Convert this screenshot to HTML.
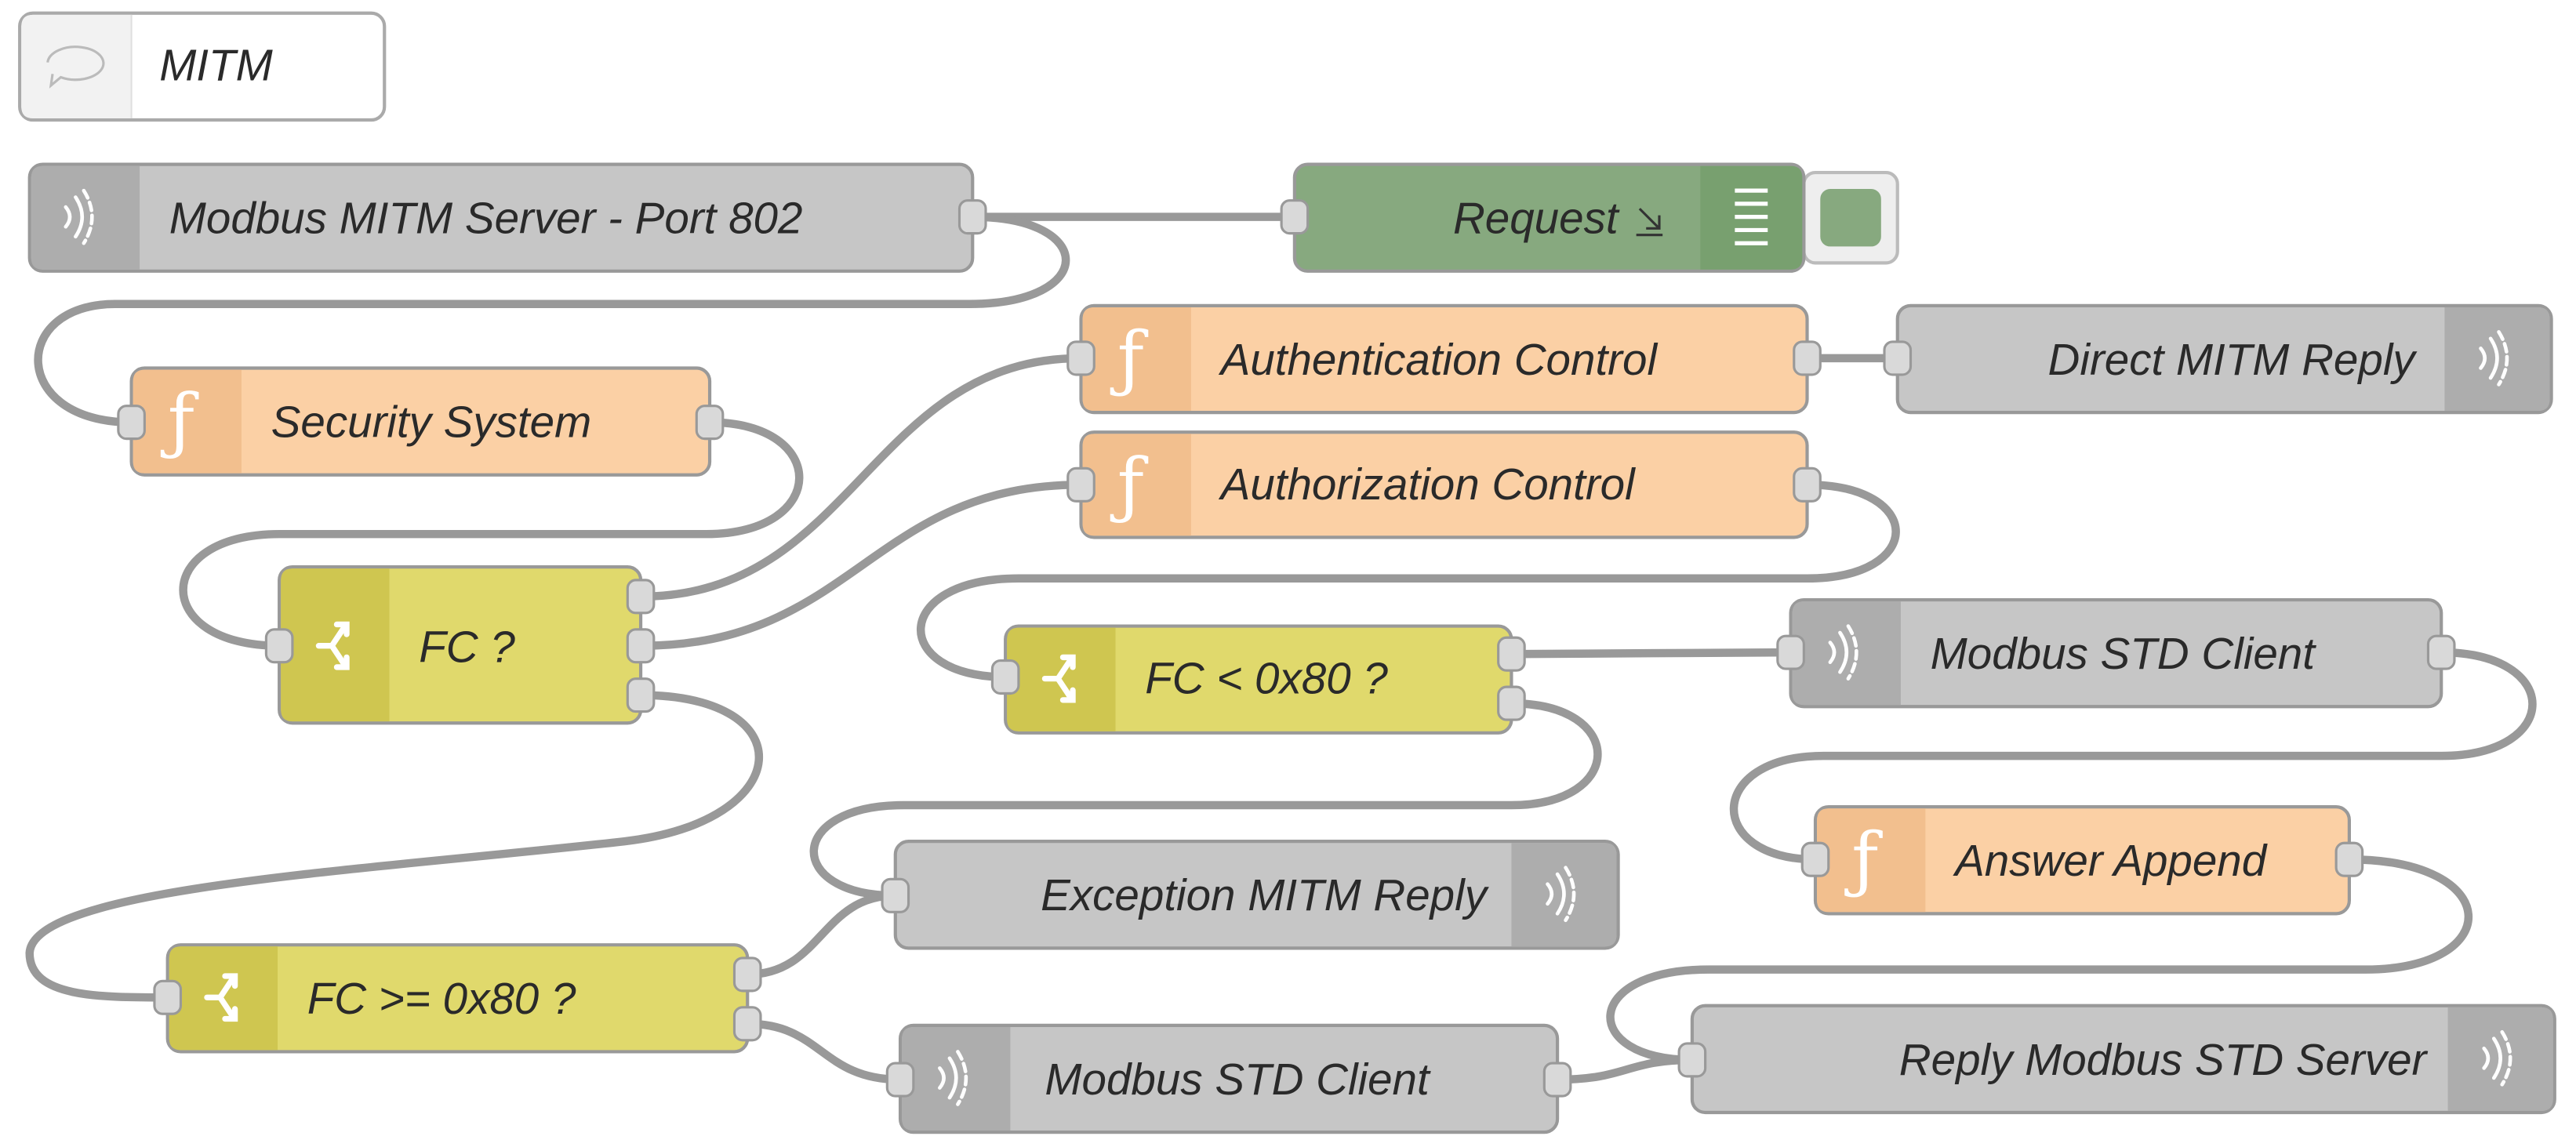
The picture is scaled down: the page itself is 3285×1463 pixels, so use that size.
<!DOCTYPE html>
<html><head><meta charset="utf-8"><style>
html,body{margin:0;padding:0;background:#fff;}
svg{display:block;}
text{font-family:"Liberation Sans",sans-serif;font-style:italic;font-size:27px;fill:#2a2a2a;}
</style></head><body>
<svg width="3285" height="1463" viewBox="0 0 1568 698" preserveAspectRatio="none" xmlns="http://www.w3.org/2000/svg">
<defs>
<g id="modb" stroke="#fff" stroke-width="2.2" fill="none" stroke-linecap="round">
<path d="M-2 -12 Q6 0 -2 12"/><path d="M-8 -6 Q-3 0 -8 6"/><path d="M3 -16 Q13 0 3 16" stroke-dasharray="5 3"/>
</g>
<g id="func"><text x="-10" y="15" style="font-size:44px;fill:#fff;font-style:normal;font-family:'DejaVu Serif',serif">ƒ</text></g>
<g id="sw" stroke="#fff" stroke-width="3.5" fill="none" stroke-linecap="round">
<path d="M-10 0 L-2 0 L6 -12"/><path d="M-2 0 L6 12"/><path d="M1 -13 L7 -13 L7 -7"/><path d="M1 13 L7 13 L7 7"/>
</g>
</defs>

<g fill="none" stroke="#999" stroke-width="5" stroke-linecap="round">
<path d="M592 132 L788 132"/>
<path d="M592 132 C668 132 668 185 590 185 L70 185 C6 185 6 257 80 257"/>
<path d="M432 257 C505 257 505 325 430 325 L170 325 C92 325 92 393 170 393"/>
<path d="M390 363 C520 363 530 218 658 218"/>
<path d="M390 393 C520 393 530 295 658 295"/>
<path d="M390 423 C490 423 485 500 380 512 C220 530 20 540 18 580 C18 607 60 607 102 607"/>
<path d="M1100 218 L1155 218"/>
<path d="M1100 295 C1172 295 1172 352 1100 352 L620 352 C542 352 542 412 612 412"/>
<path d="M920 398 C1000 398 1010 397 1090 397"/>
<path d="M920 428 C990 428 990 490 920 490 L550 490 C478 490 478 545 545 545"/>
<path d="M1486 397 C1560 397 1560 460 1486 460 L1110 460 C1038 460 1038 523 1105 523"/>
<path d="M1430 523 C1525 523 1525 590 1440 590 L1040 590 C962 590 962 645 1030 645"/>
<path d="M455 593 C500 593 500 545 545 545"/>
<path d="M455 623 C500 623 500 657 548 657"/>
<path d="M948 657 C990 657 990 645 1030 645"/>
</g>

<rect x="12" y="8" width="222" height="65" rx="8" fill="#fff" stroke="#aaa" stroke-width="2"/>
<path d="M13 16 Q13 9 20 9 L80 9 L80 72 L20 72 Q13 72 13 65 Z" fill="#f2f2f2"/>
<line x1="80" y1="9" x2="80" y2="72" stroke="#e0e0e0"/>
<path d="M29 38 a17 10 0 1 1 8 9 l-6 5 l1 -7" fill="none" stroke="#bbb" stroke-width="1.5"/>
<text x="97" y="49">MITM</text>

<rect x="18" y="100" width="574" height="65" rx="8" fill="#c6c6c6" stroke="#999" stroke-width="2"/>
<path d="M19 108 Q19 101 26 101 L85 101 L85 164 L26 164 Q19 164 19 157 Z" fill="#adadad"/>
<use href="#modb" x="48" y="132"/>
<text x="103" y="142">Modbus MITM Server - Port 802</text>

<rect x="1098" y="105" width="57" height="55" rx="7" fill="#eee" stroke="#bbb" stroke-width="2"/>
<rect x="1108" y="115" width="37" height="35" rx="6" fill="#87a97f"/>
<rect x="788" y="100" width="310" height="65" rx="8" fill="#87a97f" stroke="#999" stroke-width="2"/>
<path d="M1035 101 L1090 101 Q1097 101 1097 108 L1097 157 Q1097 164 1090 164 L1035 164 Z" fill="#78a06f"/>
<g stroke="#fff" stroke-width="2.5"><line x1="1056" y1="116" x2="1076" y2="116"/><line x1="1056" y1="124" x2="1076" y2="124"/><line x1="1056" y1="132" x2="1076" y2="132"/><line x1="1056" y1="140" x2="1076" y2="140"/><line x1="1056" y1="148" x2="1076" y2="148"/></g>
<text x="985" y="142" text-anchor="end">Request</text>
<path d="M998 127 L1010 139 M1010 131 L1010 139 L1002 139 M996 143 L1012 143" stroke="#333" stroke-width="1.5" fill="none"/>

<rect x="658" y="186" width="442" height="65" rx="8" fill="#fbd0a5" stroke="#999" stroke-width="2"/>
<path d="M659 194 Q659 187 666 187 L725 187 L725 250 L666 250 Q659 250 659 243 Z" fill="#f2bf8e"/>
<use href="#func" x="690" y="218"/>
<text x="743" y="228">Authentication Control</text>

<rect x="1155" y="186" width="398" height="65" rx="8" fill="#c6c6c6" stroke="#999" stroke-width="2"/>
<path d="M1488 187 L1545 187 Q1552 187 1552 194 L1552 243 Q1552 250 1545 250 L1488 250 Z" fill="#adadad"/>
<use href="#modb" x="1518" y="218"/>
<text x="1470" y="228" text-anchor="end">Direct MITM Reply</text>

<rect x="80" y="224" width="352" height="65" rx="8" fill="#fbd0a5" stroke="#999" stroke-width="2"/>
<path d="M81 232 Q81 225 88 225 L147 225 L147 288 L88 288 Q81 288 81 281 Z" fill="#f2bf8e"/>
<use href="#func" x="112" y="256"/>
<text x="165" y="266">Security System</text>

<rect x="658" y="263" width="442" height="64" rx="8" fill="#fbd0a5" stroke="#999" stroke-width="2"/>
<path d="M659 271 Q659 264 666 264 L725 264 L725 326 L666 326 Q659 326 659 319 Z" fill="#f2bf8e"/>
<use href="#func" x="690" y="295"/>
<text x="743" y="304">Authorization Control</text>

<rect x="170" y="345" width="220" height="95" rx="8" fill="#e0d96c" stroke="#999" stroke-width="2"/>
<path d="M171 353 Q171 346 178 346 L237 346 L237 439 L178 439 Q171 439 171 432 Z" fill="#cfc650"/>
<use href="#sw" x="204" y="393"/>
<text x="255" y="403">FC ?</text>

<rect x="612" y="381" width="308" height="65" rx="8" fill="#e0d96c" stroke="#999" stroke-width="2"/>
<path d="M613 389 Q613 382 620 382 L679 382 L679 445 L620 445 Q613 445 613 438 Z" fill="#cfc650"/>
<use href="#sw" x="646" y="413"/>
<text x="697" y="422">FC &lt; 0x80 ?</text>

<rect x="1090" y="365" width="396" height="65" rx="8" fill="#c6c6c6" stroke="#999" stroke-width="2"/>
<path d="M1091 373 Q1091 366 1098 366 L1157 366 L1157 429 L1098 429 Q1091 429 1091 422 Z" fill="#adadad"/>
<use href="#modb" x="1122" y="397"/>
<text x="1175" y="407">Modbus STD Client</text>

<rect x="1105" y="491" width="325" height="65" rx="8" fill="#fbd0a5" stroke="#999" stroke-width="2"/>
<path d="M1106 499 Q1106 492 1113 492 L1172 492 L1172 555 L1113 555 Q1106 555 1106 548 Z" fill="#f2bf8e"/>
<use href="#func" x="1137" y="523"/>
<text x="1190" y="533">Answer Append</text>

<rect x="545" y="512" width="440" height="65" rx="8" fill="#c6c6c6" stroke="#999" stroke-width="2"/>
<path d="M920 513 L977 513 Q984 513 984 520 L984 569 Q984 576 977 576 L920 576 Z" fill="#adadad"/>
<use href="#modb" x="950" y="544"/>
<text x="905" y="554" text-anchor="end">Exception MITM Reply</text>

<rect x="102" y="575" width="353" height="65" rx="8" fill="#e0d96c" stroke="#999" stroke-width="2"/>
<path d="M103 583 Q103 576 110 576 L169 576 L169 639 L110 639 Q103 639 103 632 Z" fill="#cfc650"/>
<use href="#sw" x="136" y="607"/>
<text x="187" y="617">FC &gt;= 0x80 ?</text>

<rect x="548" y="624" width="400" height="65" rx="8" fill="#c6c6c6" stroke="#999" stroke-width="2"/>
<path d="M549 632 Q549 625 556 625 L615 625 L615 688 L556 688 Q549 688 549 681 Z" fill="#adadad"/>
<use href="#modb" x="580" y="656"/>
<text x="636" y="666">Modbus STD Client</text>

<rect x="1030" y="612" width="525" height="65" rx="8" fill="#c6c6c6" stroke="#999" stroke-width="2"/>
<path d="M1490 613 L1547 613 Q1554 613 1554 620 L1554 669 Q1554 676 1547 676 L1490 676 Z" fill="#adadad"/>
<use href="#modb" x="1520" y="644"/>
<text x="1477" y="654" text-anchor="end">Reply Modbus STD Server</text>

<g fill="#d9d9d9" stroke="#999" stroke-width="1.5">
<rect x="584" y="122" width="16" height="20" rx="5"/>
<rect x="780" y="122" width="16" height="20" rx="5"/>
<rect x="650" y="208" width="16" height="20" rx="5"/>
<rect x="1092" y="208" width="16" height="20" rx="5"/>
<rect x="1147" y="208" width="16" height="20" rx="5"/>
<rect x="72" y="247" width="16" height="20" rx="5"/>
<rect x="424" y="247" width="16" height="20" rx="5"/>
<rect x="650" y="285" width="16" height="20" rx="5"/>
<rect x="1092" y="285" width="16" height="20" rx="5"/>
<rect x="162" y="383" width="16" height="20" rx="5"/>
<rect x="382" y="353" width="16" height="20" rx="5"/>
<rect x="382" y="383" width="16" height="20" rx="5"/>
<rect x="382" y="413" width="16" height="20" rx="5"/>
<rect x="604" y="402" width="16" height="20" rx="5"/>
<rect x="912" y="388" width="16" height="20" rx="5"/>
<rect x="912" y="418" width="16" height="20" rx="5"/>
<rect x="1082" y="387" width="16" height="20" rx="5"/>
<rect x="1478" y="387" width="16" height="20" rx="5"/>
<rect x="1097" y="513" width="16" height="20" rx="5"/>
<rect x="1422" y="513" width="16" height="20" rx="5"/>
<rect x="537" y="535" width="16" height="20" rx="5"/>
<rect x="94" y="597" width="16" height="20" rx="5"/>
<rect x="447" y="583" width="16" height="20" rx="5"/>
<rect x="447" y="613" width="16" height="20" rx="5"/>
<rect x="540" y="647" width="16" height="20" rx="5"/>
<rect x="940" y="647" width="16" height="20" rx="5"/>
<rect x="1022" y="635" width="16" height="20" rx="5"/>
</g>
</svg>
</body></html>
